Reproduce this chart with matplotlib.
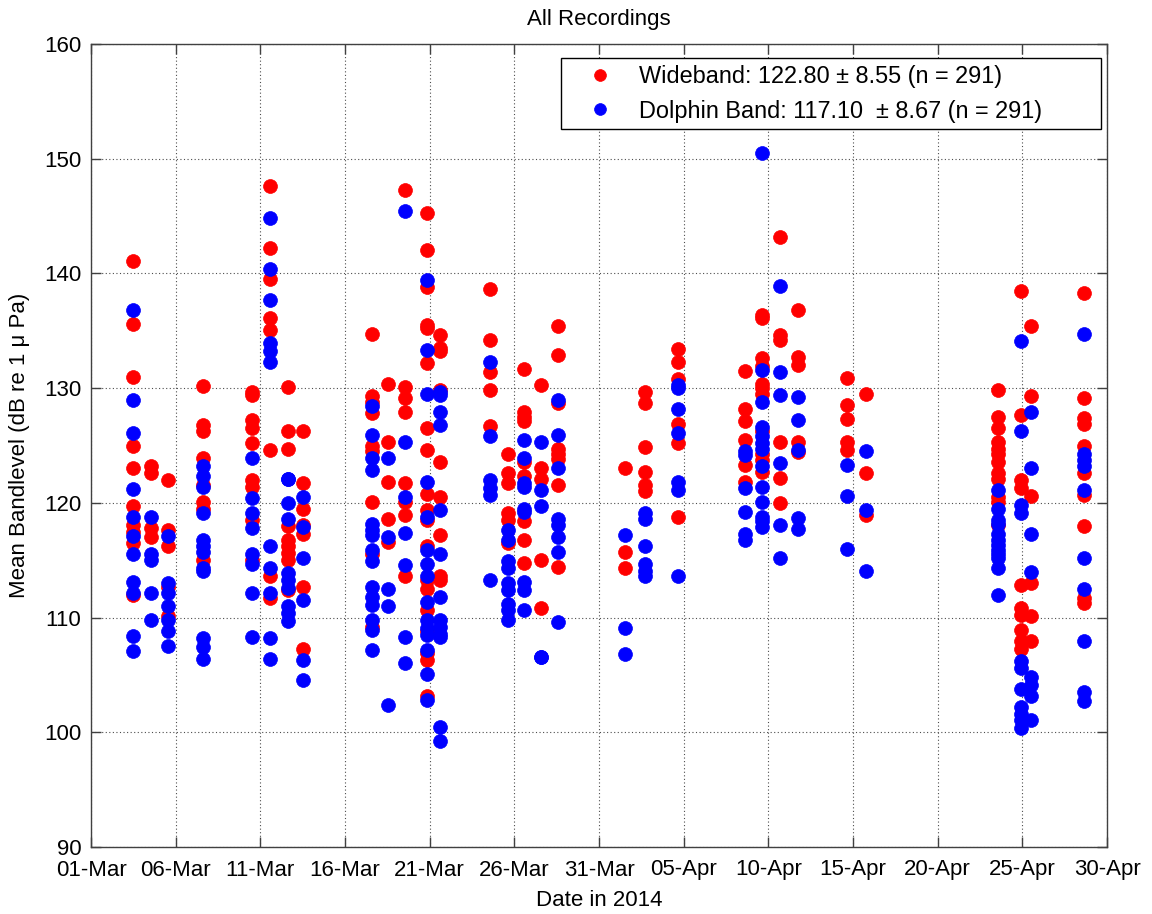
import numpy as np
import matplotlib
matplotlib.use("Agg")
import matplotlib.pyplot as plt
import matplotlib.dates as mdates

plt.rcParams['font.family'] = ['Liberation Sans', 'DejaVu Sans']

# Column positions: days after 01-Mar-2014
col_days = [2.48, 3.54, 4.55, 6.61, 9.51, 10.57, 11.63, 12.52,
            16.59, 17.54, 18.54, 19.84, 20.61,
            23.56, 24.63, 25.57, 26.58, 27.58,
            31.54, 32.72, 34.67,
            38.62, 39.63, 40.69, 41.75, 44.65, 45.77,
            53.56, 54.92, 55.51, 58.64]

wideband = [
    [141.1, 135.6, 131.0, 125.0, 123.0, 119.7, 118.1, 117.5, 116.5, 112.0],
    [123.2, 122.6, 117.8, 117.0],
    [122.0, 117.6, 116.2, 112.7, 110.1],
    [130.2, 126.8, 126.3, 123.9, 121.6, 120.1, 119.5, 115.0],
    [129.7, 129.4, 127.2, 126.5, 125.2, 122.0, 121.4, 118.5, 115.0],
    [147.6, 142.2, 139.5, 136.1, 135.1, 124.6, 113.6, 111.7],
    [130.1, 126.3, 124.7, 118.0, 116.8, 116.2, 115.6, 115.0, 112.4],
    [126.3, 121.7, 119.5, 118.1, 117.3, 112.7, 107.3],
    [134.7, 129.3, 128.8, 127.8, 125.0, 124.5, 120.1, 115.5, 109.2],
    [130.4, 125.3, 121.8, 118.6, 116.6],
    [147.3, 130.1, 129.1, 127.9, 121.7, 120.1, 118.9, 113.6],
    [145.3, 142.0, 138.8, 135.5, 135.2, 132.2, 126.5, 124.6, 120.8, 119.4,
     118.5, 116.2, 113.3, 112.5, 110.7, 108.8, 106.9, 106.3, 103.2],
    [134.6, 133.5, 133.2, 129.8, 123.6, 120.5, 117.2, 113.6, 113.3],
    [138.6, 134.2, 131.4, 129.8, 126.7],
    [124.3, 122.6, 121.7, 119.1, 118.5, 116.5],
    [131.7, 127.9, 127.5, 127.1, 123.6, 122.3, 118.4, 116.8, 114.8],
    [130.3, 123.0, 122.1, 115.0, 110.8],
    [135.4, 132.9, 128.7, 124.7, 124.3, 123.8, 121.6, 114.4],
    [123.0, 115.7, 114.3],
    [129.7, 128.7, 124.9, 122.7, 121.6, 121.0],
    [133.4, 132.3, 130.8, 126.9, 125.2, 118.8],
    [131.5, 128.2, 127.1, 125.5, 123.3, 121.8],
    [136.4, 136.1, 132.6, 131.9, 130.4, 130.0, 129.5, 126.3, 124.3, 123.7, 122.7],
    [143.2, 134.6, 134.2, 125.3, 122.2, 120.0],
    [136.8, 132.7, 132.0, 125.3, 124.4],
    [130.9, 128.5, 127.3, 125.3, 124.6],
    [129.5, 122.6, 118.9],
    [129.8, 127.5, 126.5, 125.3, 124.7, 124.3, 123.6, 122.6, 122.1, 120.5,
     120.1, 118.1],
    [138.5, 127.7, 122.0, 121.3, 112.8, 110.8, 110.2, 108.9, 108.0, 107.3],
    [135.4, 129.3, 120.6, 113.0, 110.1, 108.0],
    [138.3, 129.1, 127.4, 126.9, 125.0, 122.6, 120.7, 118.0, 111.7, 111.3],
]

dolphin = [
    [136.8, 129.0, 126.1, 121.2, 118.8, 117.1, 115.5, 113.1, 112.1, 108.4, 107.1],
    [118.8, 115.5, 115.0, 112.1, 109.8],
    [117.1, 113.0, 112.1, 111.0, 109.8, 108.8, 107.5],
    [123.2, 122.3, 121.4, 119.1, 116.8, 116.2, 115.7, 114.3, 114.1,
     108.2, 107.4, 106.4],
    [123.9, 120.4, 119.1, 117.8, 115.5, 114.7, 112.1, 108.3],
    [144.8, 140.4, 137.7, 133.9, 133.2, 132.3, 116.2, 114.3, 112.1, 108.2, 106.4],
    [122.1, 122.1, 120.0, 118.6, 113.9, 113.3, 112.6, 111.0, 110.4, 109.7],
    [120.5, 117.9, 115.2, 111.5, 106.3, 104.6],
    [128.4, 125.9, 123.9, 122.9, 118.2, 117.6, 117.2, 115.9, 114.9,
     112.7, 111.8, 111.1, 109.8, 108.9, 107.2],
    [123.9, 117.0, 112.5, 111.0, 102.4],
    [145.4, 125.3, 120.5, 117.4, 114.6, 108.3, 106.0],
    [139.4, 133.3, 129.5, 121.8, 118.8, 115.9, 114.7, 113.6, 111.4, 109.8,
     109.1, 108.5, 107.2, 105.1, 102.8],
    [129.7, 129.4, 127.9, 126.8, 119.4, 115.5, 111.8, 109.8, 109.2, 108.6,
     108.3, 100.5, 99.2],
    [132.3, 125.8, 122.0, 121.3, 120.7, 113.3],
    [117.6, 116.8, 114.9, 114.3, 113.0, 112.4, 111.2, 110.7, 109.8],
    [125.5, 123.9, 121.7, 121.4, 119.5, 119.2, 113.1, 112.4, 110.7],
    [125.3, 121.1, 119.7, 106.6, 106.6],
    [129.0, 125.9, 123.0, 118.6, 118.1, 117.0, 115.7, 109.6],
    [117.2, 109.1, 106.8],
    [119.1, 118.6, 116.2, 114.7, 114.1, 113.6],
    [130.3, 130.0, 128.2, 126.1, 121.8, 121.1, 113.6],
    [124.5, 124.2, 121.3, 119.2, 117.3, 116.8],
    [150.5, 131.6, 128.8, 126.6, 125.8, 125.2, 124.7, 123.2, 121.4, 120.1,
     118.8, 118.4, 117.9],
    [138.9, 131.4, 129.4, 123.5, 118.1, 115.2],
    [129.2, 127.2, 124.6, 118.7, 117.7],
    [123.3, 120.6, 116.0],
    [124.5, 119.4, 114.1],
    [121.1, 119.5, 118.5, 118.2, 117.3, 116.8, 116.3, 115.9, 115.5, 115.2,
     114.3, 112.0],
    [134.1, 126.3, 119.8, 119.1, 106.2, 105.6, 103.8, 102.2, 101.6, 101.1, 100.4],
    [127.9, 123.0, 117.3, 114.0, 104.8, 104.1, 103.2, 101.1],
    [134.7, 124.3, 123.7, 123.2, 121.1, 115.2, 112.5, 108.0, 103.5, 102.7],
]

x_tick_days = list(range(0, 61, 5))
y_ticks = [90, 100, 110, 120, 130, 140, 150, 160]
pad_spaces = ' ' * 8
wide_label = 'Wideband: 122.80 \u00b1 8.55 (n = 291)' + pad_spaces
dolph_label = 'Dolphin Band: 117.10  \u00b1 8.67 (n = 291)' + pad_spaces

start = np.datetime64('2014-03-01T00:00')

def to_dates(days, vals):
    xs, ys = [], []
    for d, vs in zip(days, vals):
        for v in vs:
            xs.append(start + np.timedelta64(int(round(d * 1440)), 'm'))
            ys.append(v)
    return np.array(xs), np.array(ys)

wx, wy = to_dates(col_days, wideband)
dx, dy = to_dates(col_days, dolphin)

fig = plt.figure(figsize=(11.52, 9.14), dpi=100)
ax = fig.add_axes([91/1152, 67/914, 1016/1152, 803/914])

ax.plot(wx, wy, 'o', color='#ff0000', mec='#ff0000', mew=0.5, ms=10, ls='none', label=wide_label)
ax.plot(dx, dy, 'o', color='#0000ff', mec='#0000ff', mew=0.5, ms=10, ls='none', label=dolph_label)

tick_dates = [start + np.timedelta64(d, 'D') for d in x_tick_days]
ax.set_xlim(tick_dates[0], tick_dates[-1])
ax.set_xticks(tick_dates)
ax.xaxis.set_major_formatter(mdates.DateFormatter('%d-%b'))
ax.set_ylim(90, 160)
ax.set_yticks(y_ticks)

ax.grid(True, linestyle=(0, (1, 2.2)), color='0.3', linewidth=0.8)
ax.tick_params(direction='in', length=7, width=1, top=True, right=True,
               labelsize=16, color='0.25')
ax.tick_params(axis='x', pad=9)
ax.tick_params(axis='y', pad=7)
for s in ax.spines.values():
    s.set_color('0.25')
    s.set_linewidth(1)

ax.set_title('All Recordings', fontsize=16, pad=14)
ax.set_xlabel('Date in 2014', fontsize=16, labelpad=7)
ax.set_ylabel('Mean Bandlevel (dB re 1 \u03bc Pa)', fontsize=16, labelpad=10)

leg = ax.legend(loc='upper right', bbox_to_anchor=(0.994, 0.9826), borderaxespad=0,
                fontsize=16.9, frameon=True, fancybox=False, edgecolor='black',
                framealpha=1, borderpad=0.29, handletextpad=0.29, labelspacing=0.5,
                handlelength=2.74, markerscale=0.85)
leg.get_frame().set_linewidth(1)

fig.savefig('out.png', dpi=100)
